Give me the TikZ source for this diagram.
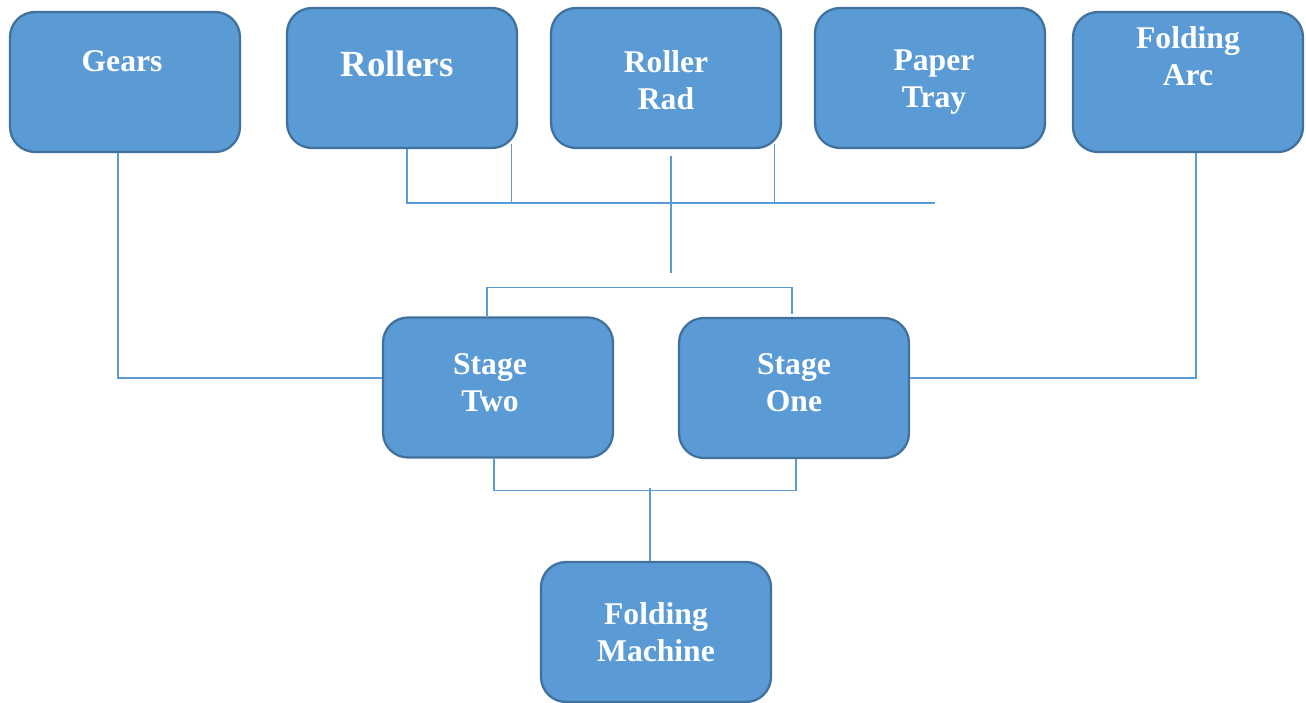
\documentclass[tikz,border=0pt]{standalone}
\usepackage{fontspec}
\setmainfont{Liberation Serif}
\usepackage{xcolor}
\usepackage{tikz}
\usetikzlibrary{calc}

\definecolor{boxfill}{HTML}{5B9BD5}
\definecolor{boxedge}{HTML}{41719C}
\definecolor{linkblue}{HTML}{5B9BD5}

\begin{document}
\begin{tikzpicture}[
  x=0.02cm, y=-0.02cm,
  font=\bfseries\fontsize{18}{21}\selectfont,
  box/.style={draw=boxedge, fill=boxfill, line width=1.3pt, rounded corners=0.5cm,
              minimum width=4.6cm, minimum height=2.8cm, inner sep=0pt},
  boxtext/.style={text=white, align=center, inner sep=0pt},
  link/.style={draw=linkblue, line width=0.7pt},
]
\useasboundingbox (0,0) rectangle (1306,703);

% top row
\node[box, label={[boxtext, yshift=0.42cm, xshift=-0.06cm]center:Gears}] (gears) at (125,82) {};
\node[box, label={[boxtext, yshift=0.28cm, xshift=-0.1cm, font=\bfseries\fontsize{21}{24}\selectfont]center:Rollers}] (rollers) at (402,78) {};
\node[box, label={[boxtext, yshift=-0.04cm]center:{Roller\\Rad}}] (rad) at (666,78) {};
\node[box, label={[boxtext, xshift=0.08cm, yshift=-0.08cm]center:{Paper\\Tray}}] (tray) at (930,78) {};
\node[box, label={[boxtext, yshift=0.52cm]center:{Folding\\Arc}}] (arc) at (1188,82) {};

% stages
\node[box, label={[boxtext, yshift=0.1cm, xshift=-0.16cm]center:{Stage\\Two}}] (stwo) at (498,387.5) {};
\node[box, label={[boxtext, yshift=0.1cm]center:{Stage\\One}}] (sone) at (794,388) {};

% bottom
\node[box, label={[boxtext]center:{Folding\\Machine}}] (fold) at (656,632) {};

% free ends
\coordinate (busR) at (935,203);
\coordinate (radDrop) at (671,273);

% upper bus
\draw[link] ($(rollers.south)+(5,0)$) |- (busR);
\draw[link] ($(rollers.south east)+(-7,-5)$) coordinate (rolR) -- (rolR |- busR);
\draw[link] ($(rad.south east)+(-8,-5)$) coordinate (radR) -- (radR |- busR);
\draw[link] ($(rad.south)+(5,7)$) -- (radDrop);

% stage bus
\draw[link] ($(stwo.north)+(-11,0)$) |- ($(sone.north)+(-2,-29)$) -- ($(sone.north)+(-2,-3)$);

% side links
\draw[link] ($(gears.south)+(-7,0)$) |- ($(stwo.west)+(0,-9.5)$);
\draw[link] ($(arc.south)+(8,0)$) |- ($(sone.east)+(0,-10)$);

% lower bus
\draw[link] ($(stwo.south)+(-4,0)$) |- ($(sone.south)+(2,31)$) -- ($(sone.south)+(2,0)$);
\draw[link] ($(fold.north)+(-6,0)$) -- ++(0,-73);

\end{tikzpicture}
\end{document}
